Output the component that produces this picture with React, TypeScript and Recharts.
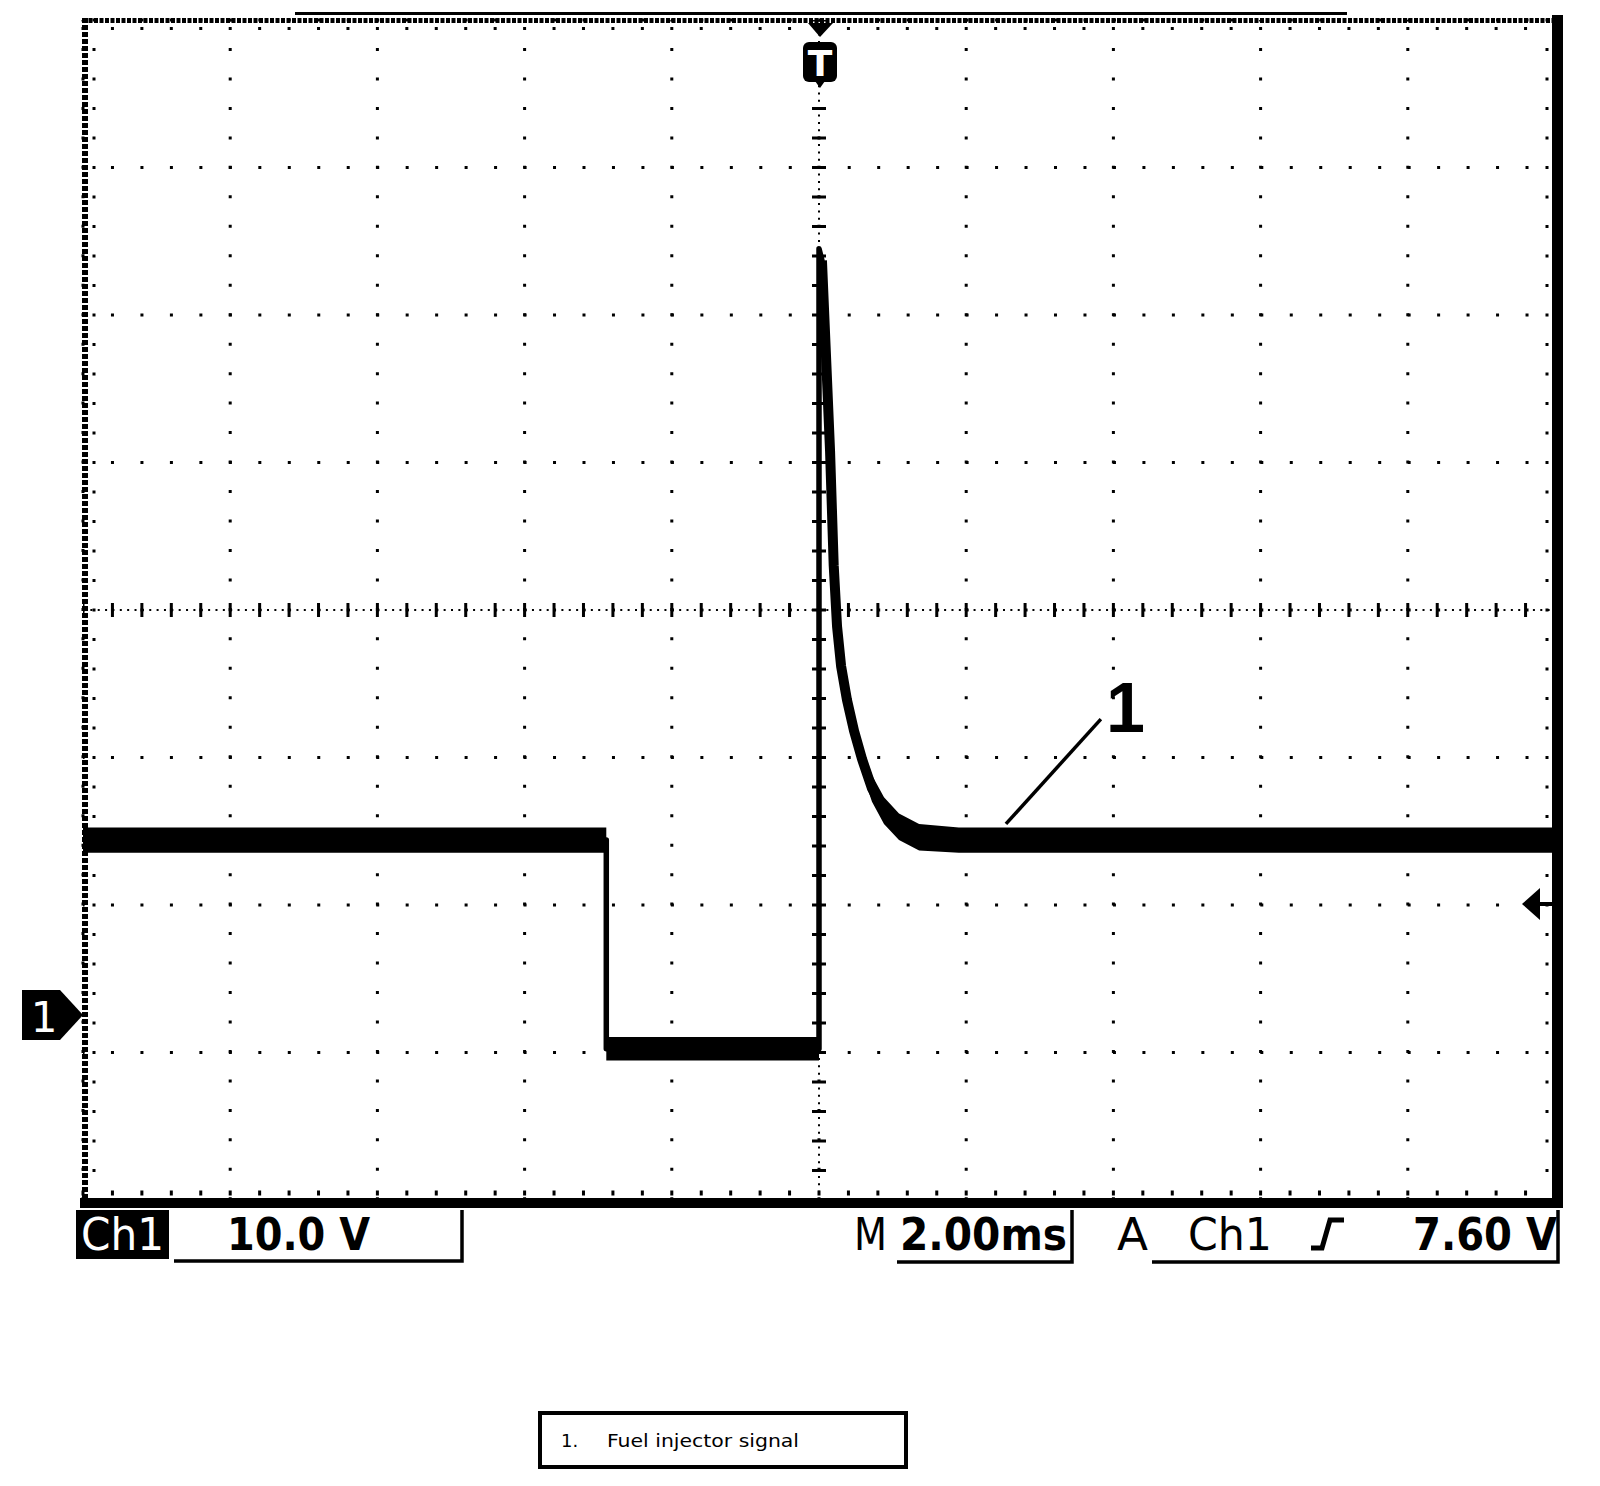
import {
  Area,
  CartesianGrid,
  ComposedChart,
  Line,
  ReferenceLine,
  XAxis,
  YAxis,
} from 'recharts';

// Ch1 trace: time in ms (trigger at 0), volts (10 V/div)
const timeMs = [-10, -2.89, -2.89, 0, 0, 0.04, 0.15, 0.2, 0.245, 0.3, 0.38, 0.476, 0.584, 0.72, 0.883, 1.087, 1.36, 1.9, 10];
const traceV = [11.9, 11.9, -2.25, -2.25, 52.0, 51.2, 38.3, 30.5, 26.4, 23.7, 21.4, 19.3, 17.4, 15.4, 13.9, 12.8, 12.1, 11.9, 11.9];
// edges of the noise band around the trace
const noiseLowV = [11.05, 11.05, -3.05, -3.05, 51.6, 50.4, 37.5, 29.7, 25.6, 22.9, 20.5, 18.4, 16.5, 14.5, 13.0, 11.9, 11.2, 11.05, 11.05];
const noiseHighV = [12.75, 12.75, -1.45, -1.45, 52.1, 51.4, 39.1, 31.3, 27.2, 24.5, 22.3, 20.2, 18.3, 16.3, 14.8, 13.7, 13.0, 12.75, 12.75];
// the decaying tail is drawn fatter (noise smear along the curve)
const decayV = [null, null, null, null, null, 51.2, 38.3, 30.5, 26.4, 23.7, 21.4, 19.3, 17.4, 15.4, 13.9, 12.8, 12.1, 11.9, null];

// graticule: 10 x 8 divisions
const timeTicks = [-10, -8, -6, -4, -2, 0, 2, 4, 6, 8, 10];
const voltTicks = [-12.5, -2.5, 7.5, 17.5, 27.5, 37.5, 47.5, 57.5, 67.5];

// callout "1"
const pointerT = [2.54, 3.83];
const pointerV = [13.0, 20.1];

const data = timeMs.map((t, i) => ({
  t,
  v: traceV[i],
  decay: decayV[i],
  band: [noiseLowV[i], noiseHighV[i]],
}));

const scopeFont = '"DejaVu Sans", sans-serif';

function Overlay() {
  return (
    <svg
      width={1600}
      height={1486}
      style={{ position: 'absolute', left: 0, top: 0, pointerEvents: 'none' }}
    >
      {/* top bar */}
      <rect x={295} y={12} width={1052} height={3} fill="#000" />

      {/* frame */}
      <line x1={85} y1={18} x2={85} y2={1200} stroke="#000" strokeWidth={6} strokeDasharray="5 2" />
      <line x1={83} y1={20.5} x2={1552} y2={20.5} stroke="#000" strokeWidth={5} strokeDasharray="4 1.5" />
      <rect x={80} y={1198} width={1483} height={10} fill="#000" />
      <rect x={1552} y={15} width={11} height={1193} fill="#000" />

      {/* minor ticks along the frame */}
      <line x1={94} y1={18.5} x2={94} y2={1200} stroke="#000" strokeWidth={3} strokeDasharray="3 26.5" />
      <line x1={1547} y1={18.5} x2={1547} y2={1200} stroke="#000" strokeWidth={3} strokeDasharray="3 26.5" />
      <line x1={81.5} y1={28.5} x2={1552} y2={28.5} stroke="#000" strokeWidth={3} strokeDasharray="3 26.44" />
      <line x1={81.5} y1={1193} x2={1552} y2={1193} stroke="#000" strokeWidth={5} strokeDasharray="3 26.44" />

      {/* trigger position marker */}
      <polygon points="808,23 833,23 820,37" fill="#000" />
      <rect x={803} y={42} width={34} height={40} rx={6} fill="#000" />
      <polygon points="815,81 825,81 820,88" fill="#000" />
      <text x={820} y={76} fill="#fff" fontFamily={scopeFont} fontWeight={700} fontSize={36} textAnchor="middle">
        T
      </text>

      {/* ground marker */}
      <path d="M22 990 H60 L83 1015 L60 1040 H22 Z" fill="#000" />
      <text x={44} y={1032} fill="#fff" fontFamily={scopeFont} fontSize={42} textAnchor="middle">
        1
      </text>

      {/* trigger level marker */}
      <polygon points="1522,904 1540,888 1540,920" fill="#000" />
      <rect x={1540} y={902} width={12} height={4} fill="#000" />

      {/* callout label */}
      <text x={1106} y={732} fontFamily='"Liberation Sans", Arial, sans-serif' fontWeight={700} fontSize={70} fill="#000">
        1
      </text>

      {/* status line */}
      <rect x={76} y={1210} width={93} height={49} fill="#000" />
      <text x={81} y={1250} fill="#fff" fontFamily={scopeFont} fontSize={45} textLength={83} lengthAdjust="spacingAndGlyphs">
        Ch1
      </text>
      <text x={227} y={1250} fontFamily={scopeFont} fontWeight={700} fontSize={45} textLength={143} lengthAdjust="spacingAndGlyphs">
        10.0 V
      </text>
      <path d="M174 1261 H462 V1210" fill="none" stroke="#000" strokeWidth={3.5} />

      <text x={854} y={1250} fontFamily={scopeFont} fontSize={45} textLength={33} lengthAdjust="spacingAndGlyphs">
        M
      </text>
      <text x={900} y={1250} fontFamily={scopeFont} fontWeight={700} fontSize={45} textLength={167} lengthAdjust="spacingAndGlyphs">
        2.00ms
      </text>
      <path d="M897 1262 H1072 V1210" fill="none" stroke="#000" strokeWidth={3.5} />

      <text x={1117} y={1250} fontFamily={scopeFont} fontSize={45} textLength={31} lengthAdjust="spacingAndGlyphs">
        A
      </text>
      <text x={1188} y={1250} fontFamily={scopeFont} fontSize={45} textLength={84} lengthAdjust="spacingAndGlyphs">
        Ch1
      </text>
      <polyline points="1311,1248 1322,1248 1330,1220 1344,1220" fill="none" stroke="#000" strokeWidth={5} />
      <text x={1413} y={1250} fontFamily={scopeFont} fontWeight={700} fontSize={45} textLength={144} lengthAdjust="spacingAndGlyphs">
        7.60 V
      </text>
      <path d="M1152 1262 H1558 V1210" fill="none" stroke="#000" strokeWidth={3.5} />

      {/* legend */}
      <rect x={540} y={1413} width={366} height={54} fill="none" stroke="#000" strokeWidth={4} />
      <text x={561} y={1447} fontFamily={scopeFont} fontSize={18}>
        1.
      </text>
      <text x={607} y={1447} fontFamily={scopeFont} fontSize={18} textLength={192} lengthAdjust="spacingAndGlyphs">
        Fuel injector signal
      </text>
    </svg>
  );
}

export default function App() {
  return (
    <div
      style={{
        position: 'absolute',
        left: 0,
        top: 0,
        width: 1600,
        height: 1486,
        background: '#fff',
      }}
    >
      <ComposedChart
        width={1600}
        height={1486}
        data={data}
        margin={{ top: 20, right: 45, bottom: 286, left: 83 }}
      >
        <XAxis type="number" dataKey="t" domain={[-10, 10]} ticks={timeTicks} hide />
        <YAxis type="number" domain={[-12.5, 67.5]} ticks={voltTicks} hide />
        <CartesianGrid
          stroke="#000"
          strokeWidth={3}
          strokeDasharray="3 26.47"
          strokeDashoffset={1.5}
        />
        {/* centre crosshair: dense dots plus minor ticks */}
        <ReferenceLine x={0} stroke="#000" strokeWidth={2} strokeDasharray="2 5.37" />
        <ReferenceLine x={0} stroke="#000" strokeWidth={14} strokeDasharray="3 26.5" strokeDashoffset={1.5} />
        <ReferenceLine y={27.5} stroke="#000" strokeWidth={2} strokeDasharray="2 5.36" />
        <ReferenceLine y={27.5} stroke="#000" strokeWidth={14} strokeDasharray="3 26.44" strokeDashoffset={1.5} />

        <Area
          dataKey="band"
          type="linear"
          stroke="none"
          fill="#000"
          fillOpacity={1}
          dot={false}
          activeDot={false}
          isAnimationActive={false}
        />
        <Line
          dataKey="decay"
          type="linear"
          stroke="#000"
          strokeWidth={10}
          strokeLinejoin="round"
          dot={false}
          activeDot={false}
          isAnimationActive={false}
        />
        <Line
          dataKey="v"
          type="linear"
          stroke="#000"
          strokeWidth={5.5}
          strokeLinejoin="round"
          dot={false}
          activeDot={false}
          isAnimationActive={false}
        />
        <ReferenceLine
          segment={[
            { x: pointerT[0], y: pointerV[0] },
            { x: pointerT[1], y: pointerV[1] },
          ]}
          stroke="#000"
          strokeWidth={3.5}
        />
      </ComposedChart>
      <Overlay />
    </div>
  );
}
